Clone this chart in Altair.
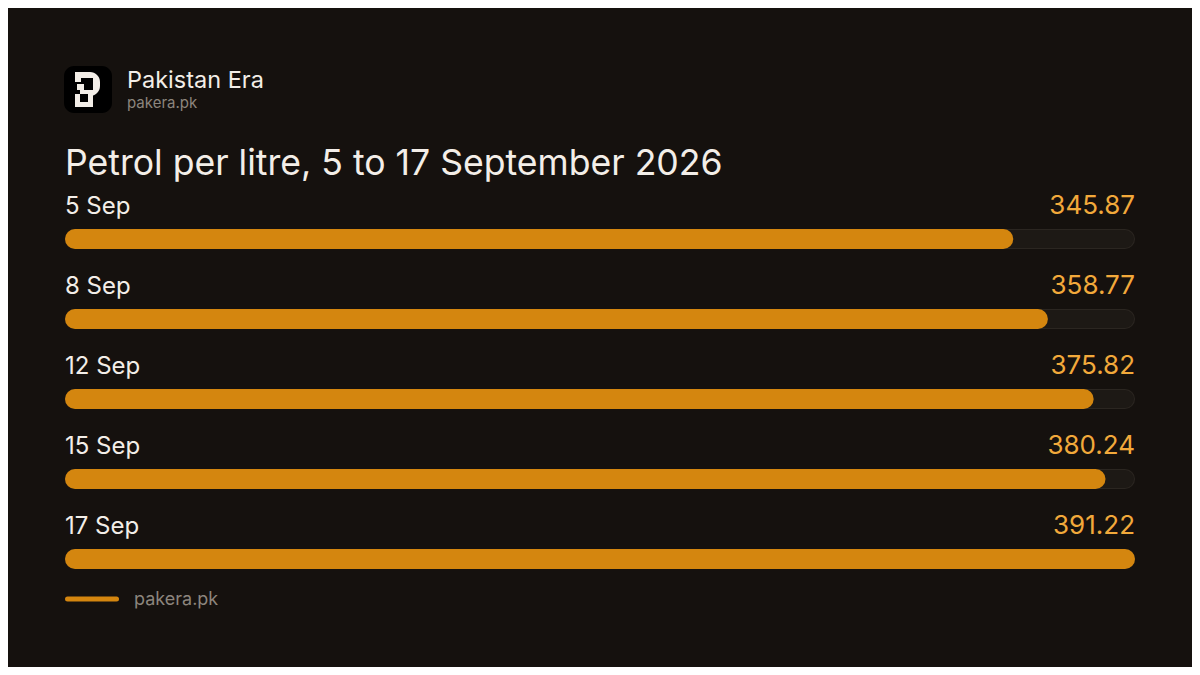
import altair as alt
import pandas as pd

# ---- data ----
dates = ["5 Sep", "8 Sep", "12 Sep", "15 Sep", "17 Sep"]
prices = [345.87, 358.77, 375.82, 380.24, 391.22]
rows = [0, 1, 2, 3, 4]

title_text = "Petrol per litre, 5 to 17 September 2026"
brand_name = "Pakistan Era"
brand_site = "pakera.pk"

df = pd.DataFrame({"date": dates, "price": prices, "row": rows})
df["label"] = [f"{v:.2f}" for v in prices]

BG = "#15110e"
ORANGE = "#d4860f"
VALUE_C = "#f2a93b"
WHITE = "#f3eee8"
GRAY = "#8c857d"
FONT = "Inter"

one = pd.DataFrame({"k": [0]})

x_scale = alt.Scale(domain=[0, max(prices)], range=[67, 1117])
y_scale = alt.Scale(domain=[0, 4], range=[231, 551])
Y = alt.Y("row:Q", scale=y_scale, axis=None)


def rect(x1, x2, y1, y2, color, r=0):
    return alt.Chart(one).mark_rect(color=color, cornerRadius=r).encode(
        x=alt.value(x1 - 8), x2=alt.value(x2 - 8), y=alt.value(y1 - 8), y2=alt.value(y2 - 8)
    )


def text(s, x, y, size, color, align="left"):
    return alt.Chart(one).mark_text(
        text=s, font=FONT, fontSize=size, color=color, align=align,
        baseline="alphabetic"
    ).encode(x=alt.value(x - 8), y=alt.value(y - 8))


# logo
logo = [
    rect(64, 112, 66, 113, "#000000", 10),
    alt.Chart(one).mark_rect(color=WHITE, cornerRadiusTopRight=11, cornerRadiusBottomRight=11).encode(
        x=alt.value(80 - 8), x2=alt.value(100 - 8), y=alt.value(72 - 8), y2=alt.value(96 - 8)),
    rect(80, 93, 78, 90, "#000000"),
    rect(75, 88, 72, 78, WHITE),
    rect(75, 81, 72, 82, WHITE),
    rect(77, 84, 84, 90, WHITE),
    rect(75, 93, 94, 107, WHITE),
    rect(80, 88, 94, 102, "#000000"),
]

header = [
    text(brand_name, 127, 88, 23.5, WHITE),
    text(brand_site, 127, 108, 15, GRAY),
    text(title_text, 65, 175, 35.6, WHITE),
]

base = alt.Chart(df)

track_border = base.mark_rule(color="#2b2621", strokeWidth=20, strokeCap="round").encode(
    x=alt.value(67), x2=alt.value(1117), y=Y)
track = base.mark_rule(color="#1d1915", strokeWidth=18, strokeCap="round").encode(
    x=alt.value(67), x2=alt.value(1117), y=Y)
bars = base.mark_rule(color=ORANGE, strokeWidth=20, strokeCap="round").encode(
    x=alt.X("price:Q", scale=x_scale, axis=None), x2=alt.datum(0), y=Y)

labels = base.mark_text(font=FONT, fontSize=24, color=WHITE, align="left",
                        baseline="alphabetic", dy=-25).encode(
    x=alt.value(57), y=Y, text="date:N")
values = base.mark_text(font=FONT, fontSize=26, color=VALUE_C, align="right",
                        baseline="alphabetic", dy=-25).encode(
    x=alt.value(1127), y=Y, text="label:N")

footer = [
    alt.Chart(one).mark_rule(color=ORANGE, strokeWidth=5, strokeCap="round").encode(
        x=alt.value(67.5 - 8), x2=alt.value(116.5 - 8), y=alt.value(599 - 8)),
    text(brand_site, 134, 605, 18, GRAY),
]

chart = alt.layer(
    *logo, *header, track_border, track, bars, labels, values, *footer
).properties(
    width=1184, height=659, autosize=alt.AutoSizeParams(type="none"), padding=0
).configure(background=BG).configure_view(stroke=None)

chart.save("out.html", embed_options={"renderer": "svg", "actions": False})
